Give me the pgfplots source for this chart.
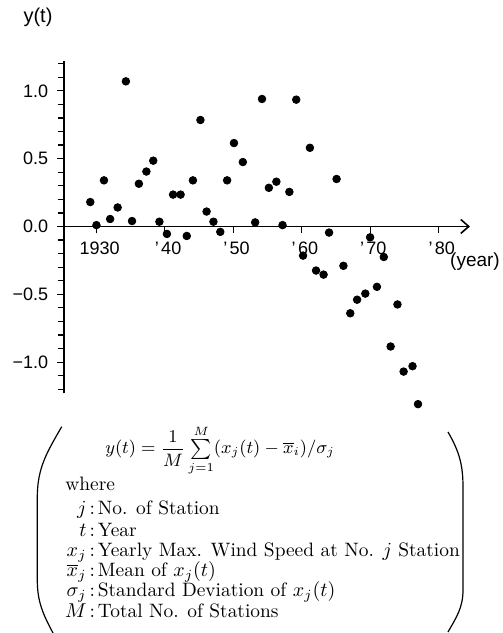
\documentclass[border=0pt]{standalone}
\usepackage{fontspec}
\usepackage{pgfplots}
\pgfplotsset{compat=1.18}
\usetikzlibrary{arrows.meta}
\newfontfamily\axisfont{Liberation Sans}

% yearly index y(t) of the maximum wind speed
\pgfplotstableread{
year   y
1929.1 0.18
1930.0 0.01
1931.1 0.34
1932.0 0.055
1933.1 0.14
1934.3 1.07
1935.2 0.04
1936.2 0.315
1937.3 0.405
1938.3 0.485
1939.2 0.035
1940.3 -0.055
1941.2 0.235
1942.3 0.235
1943.2 -0.07
1944.1 0.34
1945.2 0.785
1946.1 0.11
1947.1 0.035
1948.1 -0.04
1949.1 0.34
1950.1 0.615
1951.4 0.475
1953.2 0.03
1954.2 0.94
1955.2 0.285
1956.3 0.33
1957.2 0.01
1958.2 0.255
1959.2 0.935
1960.2 -0.215
1961.2 0.58
1962.1 -0.325
1963.2 -0.355
1964.0 -0.045
1965.1 0.35
1966.1 -0.29
1967.1 -0.64
1968.1 -0.54
1969.3 -0.495
1970.0 -0.08
1971.0 -0.445
1972.0 -0.225
1973.0 -0.885
1974.0 -0.575
1974.9 -1.07
1976.2 -1.03
1977.0 -1.31
}\windindex

\begin{document}
\begin{tikzpicture}
\useasboundingbox (0,0) rectangle (251.5pt,316.5pt);
\begin{axis}[
  at={(32.15pt,119.85pt)}, anchor=south west,
  scale only axis, width=202.85pt, height=166.15pt,
  xmin=1925.3, xmax=1984.6, ymin=-1.23, ymax=1.22,
  clip=false,
  axis x line=middle, axis y line=left,
  hide obscured x ticks=false, hide obscured y ticks=false,
  x axis line style={line width=0.8pt, -{Straight Barb[length=4pt,width=7pt,line width=0.8pt]}},
  y axis line style={line width=0.9pt, -},
  tick align=outside,
  major tick length=3.5pt, minor tick length=3pt,
  every tick/.style={black, line width=0.6pt},
  xtick={1930,1940,1950,1960,1970,1980},
  xticklabels={1930,’\kern1.2pt40,’\kern1.2pt50,’\kern1.2pt60,’\kern1.2pt70,’\kern1.2pt80},
  ytick={-1,-0.5,0,0.5,1},
  yticklabels={−1.0,−0.5,0.0,0.5,1.0},
  minor ytick={-1.2,-1.1,-0.9,-0.8,-0.7,-0.6,-0.4,-0.3,-0.2,-0.1,0.1,0.2,0.3,0.4,0.6,0.7,0.8,0.9,1.1,1.2},
  tick label style={font=\axisfont\fontsize{9}{10}\selectfont},
  xticklabel style={xshift=1.6pt, yshift=-0.5pt},
  yticklabel style={xshift=-1pt},
]
\addplot[only marks, mark=*, mark size=1.9pt, black] table[x=year, y=y] {\windindex};
\end{axis}

% axis titles
\node[font=\axisfont\fontsize{10}{12}\selectfont] at (19pt,308pt) {y(t)};
\node[font=\axisfont\fontsize{9.5}{11}\selectfont] at (237.5pt,185.5pt) {(year)};

% definition of the index, between large parentheses
\draw[line width=0.6pt] (30.85pt,103.15pt) to[out=240,in=90] (18.65pt,68pt) -- (18.65pt,26.5pt) to[out=-90,in=118] (26.5pt,0pt);
\draw[line width=0.6pt] (224pt,100.5pt) to[out=-60,in=90] (231.5pt,73pt) -- (231.5pt,21.5pt) to[out=-90,in=60] (224pt,0.5pt);

\begin{scope}[every node/.style={inner sep=0pt, font=\fontsize{9.7}{12}\selectfont}]
\node[anchor=base, font=\fontsize{9}{11}\selectfont] at (110pt,89.5pt) {$\displaystyle y(t)=\frac{1}{M}\,{\textstyle\sum\limits_{j=1}^{M}}(x_j(t)-\overline{x}_i)/\sigma_j$};
\node[anchor=base west] at (32.5pt,71pt) {where};
\foreach \sym/\txt/\yy in {
  {$j$}/{No. of Station}/59.5,
  {$t$}/{Year}/48.5,
  {$x_j$}/{Yearly Max. Wind Speed at No. $j$ Station}/38,
  {$\overline{x}_j$}/{Mean of $x_j(t)$}/28,
  {$\sigma_j$}/{Standard Deviation of $x_j(t)$}/18,
  {$M$}/{Total No. of Stations}/8}{
  \node[anchor=base east] at (43.5pt,\yy pt) {\sym};
  \node[anchor=base] at (46.15pt,\yy pt) {:};
  \node[anchor=base west] at (48.75pt,\yy pt) {\txt};
}
\end{scope}
\end{tikzpicture}
\end{document}
